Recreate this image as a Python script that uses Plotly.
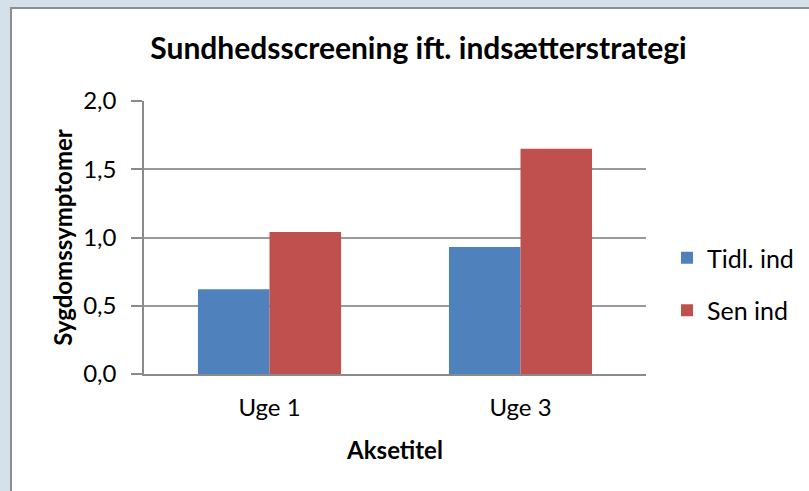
import plotly.graph_objects as go

categories = ["Uge 1", "Uge 3"]
series_names = ["Tidl. ind", "Sen ind"]
tidl_values = [0.62, 0.93]
sen_values = [1.04, 1.65]
colors = ["#4f81bd", "#c0504d"]
y_ticks = [0.0, 0.5, 1.0, 1.5, 2.0]
y_tick_labels = ["0,0", "0,5", "1,0", "1,5", "2,0"]

W, H = 809, 491
L, R, T, B = 144, 646, 101, 374
pw, ph = R - L, B - T

def px_x(x):
    return (x - L) / pw

def px_y(y):
    return (B - y) / ph

font = "Lato"

fig = go.Figure()
for i, (name, vals) in enumerate(zip(series_names, [tidl_values, sen_values])):
    fig.add_trace(go.Bar(
        x=categories, y=vals, name=name,
        marker=dict(color=colors[i], line=dict(width=0)),
        legendgroup=f"g{i}",
    ))

fig.update_layout(
    width=W, height=H,
    margin=dict(l=L, r=W - R, t=T, b=H - B, pad=0, autoexpand=False),
    paper_bgcolor="#d5e1ea",
    plot_bgcolor="white",
    barmode="group",
    bargap=0.43,
    bargroupgap=0,
    font=dict(family=font, color="#000000"),
    title=dict(
        text="<b>Sundhedsscreening ift. indsætterstrategi</b>",
        x=418.5 / W, xref="container", xanchor="center",
        y=1 - 48 / H, yref="container", yanchor="middle",
        font=dict(size=30, family=font, color="#000"),
    ),
    showlegend=True,
    legend=dict(
        x=667 / W, xanchor="left",
        y=1 - 235 / H, yanchor="top",
        yref="container", xref="container",
        font=dict(size=25, family=font, color="#000"),
        bgcolor="rgba(0,0,0,0)",
        tracegroupgap=17,
        traceorder="grouped",
        itemwidth=30,
    ),
    shapes=[
        dict(type="rect", xref="paper", yref="paper",
             x0=px_x(11), x1=px_x(830), y0=px_y(510), y1=px_y(8),
             fillcolor="white", line=dict(color="#8e8e8e", width=2),
             layer="below"),
    ],
)

fig.update_xaxes(
    showgrid=False, showline=True, linecolor="#8a8a8a", linewidth=1.5,
    ticks="", tickfont=dict(size=24, family=font), ticklabelstandoff=11,
    title=dict(text="<b>Aksetitel</b>", font=dict(size=24, family=font), standoff=23),
    fixedrange=True,
)
fig.update_yaxes(
    range=[0, 2], tickvals=y_ticks, ticktext=y_tick_labels,
    showgrid=True, gridcolor="#9a9a9a", gridwidth=1.5,
    showline=True, linecolor="#8a8a8a", linewidth=1.5,
    ticks="outside", ticklen=11, tickcolor="#8a8a8a", tickwidth=1.5,
    tickfont=dict(size=24, family=font), ticklabelstandoff=10,
    title=dict(text="<b>Sygdomssymptomer</b>", font=dict(size=24, family=font), standoff=4),
    zeroline=False, fixedrange=True,
)

fig.write_html(
    "out.html",
    config={"displayModeBar": False},
    post_script="document.body.style.margin='0';document.body.style.background='#d5e1ea';",
)
